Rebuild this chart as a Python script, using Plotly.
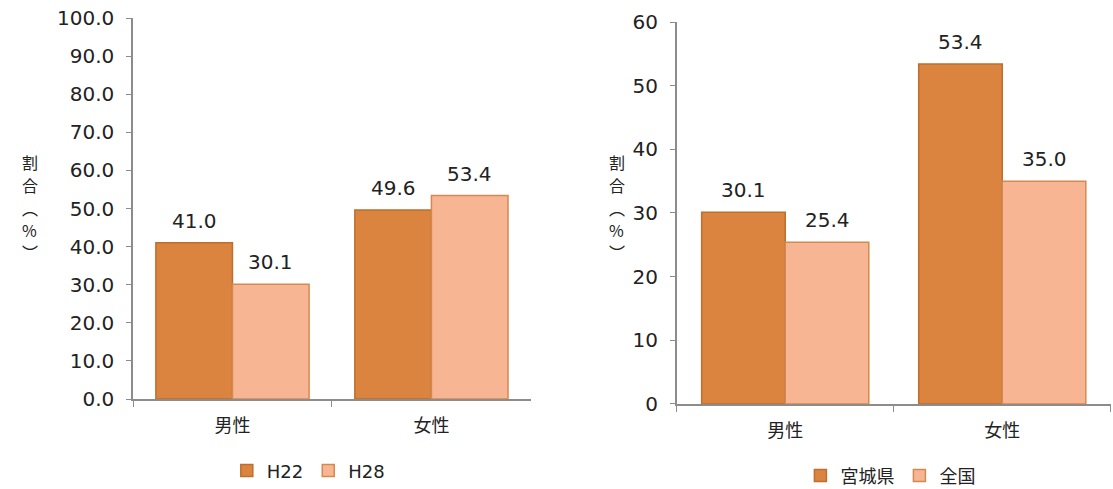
import plotly.graph_objects as go

# Data
categories = ["男性", "女性"]

# Left chart: H22 vs H28
left_series = ["H22", "H28"]
left_h22 = [41.0, 49.6]
left_h28 = [30.1, 53.4]

# Right chart: 宮城県 vs 全国
right_series = ["宮城県", "全国"]
right_miyagi = [30.1, 53.4]
right_national = [25.4, 35.0]

left_ticks = [0, 10, 20, 30, 40, 50, 60, 70, 80, 90, 100]
right_ticks = [0, 10, 20, 30, 40, 50, 60]

# Vertical y-axis title, one glyph per line
y_title_chars = ["割", "合", "︵", "%", "︶"]

# Styling
DARK = "#DA843F"
DARK_LINE = "#BF6E2D"
LIGHT = "#F8B593"
LIGHT_LINE = "#D38A50"
AXIS = "#8C8C8C"
TEXT = "#222222"
FONT = "DejaVu Sans, Noto Sans CJK JP, sans-serif"
CJK = "Noto Sans CJK JP"
BARGAP = 0.23

fig = go.Figure()

def add_pair(names, vals_a, vals_b, xa, ya, legend):
    for name, vals, fill, line in (
        (names[0], vals_a, DARK, DARK_LINE),
        (names[1], vals_b, LIGHT, LIGHT_LINE),
    ):
        fig.add_trace(go.Bar(
            x=categories, y=vals, name=name,
            marker=dict(color=fill, line=dict(color=line, width=1.5)),
            xaxis=xa, yaxis=ya, legend=legend,
        ))

add_pair(left_series, left_h22, left_h28, "x", "y", "legend")
add_pair(right_series, right_miyagi, right_national, "x2", "y2", "legend2")

# Value labels above each bar
offset = (1 - BARGAP) / 4
annotations = []
for xref, yref, pairs in (
    ("x", "y", (left_h22, left_h28)),
    ("x2", "y2", (right_miyagi, right_national)),
):
    for k, vals in enumerate(pairs):
        sign = -1 if k == 0 else 1
        for i, v in enumerate(vals):
            annotations.append(dict(
                x=i + sign * offset, y=v, xref=xref, yref=yref,
                text=f"{v:.1f}", showarrow=False, yanchor="bottom",
                yshift=8, font=dict(family=FONT, size=20, color=TEXT),
            ))

# Vertical axis titles, stacked glyph by glyph
title_shifts = [46, 23, 0, -22, -44]
for xpos in (0.019, 0.554):
    for ch, dy in zip(y_title_chars, title_shifts):
        annotations.append(dict(
            x=xpos, y=0.575, xref="paper", yref="paper", yshift=dy,
            text=ch, showarrow=False, borderpad=0,
            font=dict(family=CJK, size=16, color=TEXT),
        ))

xaxis_common = dict(
    showline=True, linecolor=AXIS, linewidth=1.5,
    ticks="outside", tickson="boundaries", ticklen=6, tickcolor=AXIS,
    tickfont=dict(family=CJK, size=18, color=TEXT),
    showgrid=False, automargin=False, ticklabelstandoff=10,
)
yaxis_common = dict(
    showline=True, linecolor=AXIS, linewidth=1.5,
    ticks="outside", ticklen=5, tickcolor=AXIS,
    tickfont=dict(family=FONT, size=20, color=TEXT),
    showgrid=False, zeroline=False, automargin=False, ticklabelstandoff=8,
)

fig.update_layout(
    width=1113, height=489,
    margin=dict(l=0, r=0, t=0, b=0, autoexpand=False),
    paper_bgcolor="white", plot_bgcolor="white",
    barmode="group", bargap=BARGAP, bargroupgap=0,
    showlegend=True,
    xaxis=dict(domain=[0.1195, 0.477], anchor="y", **xaxis_common),
    yaxis=dict(domain=[0.184, 0.963], anchor="x", range=[0, 100],
               tickvals=left_ticks, tickformat=".1f", **yaxis_common),
    xaxis2=dict(domain=[0.608, 0.998], anchor="y2", **xaxis_common),
    yaxis2=dict(domain=[0.174, 0.955], anchor="x2", range=[0, 60],
                tickvals=right_ticks, **yaxis_common),
    legend=dict(orientation="h", x=0.277, xanchor="center", y=0.037, yanchor="middle",
                itemwidth=30, font=dict(family=FONT, size=18, color=TEXT),
                bgcolor="rgba(0,0,0,0)"),
    legend2=dict(orientation="h", x=0.80, xanchor="center", y=0.027, yanchor="middle",
                 itemwidth=30, font=dict(family=CJK, size=18, color=TEXT),
                 bgcolor="rgba(0,0,0,0)"),
    annotations=annotations,
)

fig.write_html("out.html")
